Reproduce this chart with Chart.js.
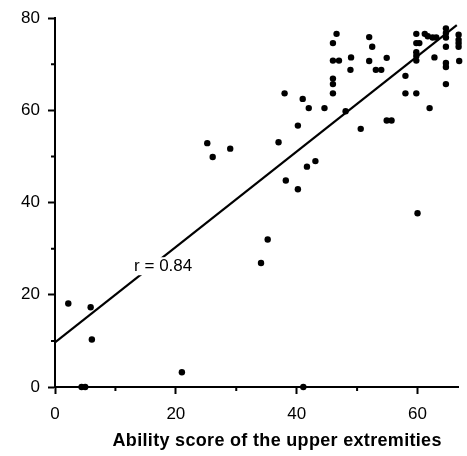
<!DOCTYPE html>
<html><head><meta charset="utf-8">
<script src="https://cdn.jsdelivr.net/npm/chart.js@4"></script>
<style>html,body{margin:0;padding:0;background:#fff}#wrap{width:467px;height:456px}</style>
</head><body><div id="wrap"><canvas id="c" width="467" height="456"></canvas></div>
<script>
// Scatter data: ability score of the upper extremities (x) vs score (y)
const xValues = [2.2, 5.9, 6.1, 4.4, 5.0, 21.0, 41.1, 25.2, 26.1, 29.0,
  38.0, 41.0, 42.0, 40.2, 37.0, 38.2, 40.2, 41.7, 43.1, 35.2,
  34.1, 44.6, 48.1, 50.6, 46.6, 46.0, 46.0, 47.0, 49.0, 48.9,
  46.0, 46.0, 46.0, 52.0, 52.5, 52.0, 54.9, 53.1, 54.0, 58.0,
  58.0, 59.8, 62.0, 54.9, 55.7, 60.0, 59.8, 61.2, 61.7, 62.5,
  63.1, 59.8, 60.3, 59.8, 59.8, 59.8, 62.8, 64.7, 64.7, 64.7,
  64.7, 64.7, 64.7, 64.7, 66.8, 66.8, 66.8, 66.8, 66.9];
const yValues = [18.1, 17.3, 10.3, 0, 0, 3.2, 0, 52.9, 49.9, 51.7,
  63.7, 62.5, 60.5, 56.7, 53.1, 44.8, 42.9, 47.8, 49.0, 32.0,
  26.9, 60.5, 59.8, 56.0, 76.6, 74.6, 70.8, 70.8, 71.5, 68.8,
  66.9, 65.7, 63.7, 75.9, 73.8, 70.7, 71.4, 68.8, 68.8, 67.5,
  63.7, 63.7, 60.5, 57.8, 57.8, 37.7, 76.6, 76.6, 76.1, 75.8,
  75.8, 74.6, 74.6, 72.6, 71.8, 70.8, 71.5, 77.8, 76.8, 75.8,
  73.8, 70.3, 69.4, 65.7, 76.4, 75.3, 74.6, 73.8, 70.7];
// Regression line end points
const lineX = [0, 66.5];
const lineY = [9.7, 78.5];
// Axis ticks
const xMajorTicks = [0, 20, 40, 60];
const xMinorTicks = [10, 30, 50];
const yMajorTicks = [0, 20, 40, 60, 80];
const yMinorTicks = [10, 30, 50, 70];
const xTitle = 'Ability score of the upper extremities';
const rLabel = 'r = 0.84';
const rLabelAt = [17.9, 26.2];

const points = xValues.map((x, i) => ({x: x, y: yValues[i]}));
const linePts = lineX.map((x, i) => ({x: x, y: lineY[i]}));

const FONT = "'Liberation Sans', Arial, sans-serif";

const extras = {
  id: 'extras',
  afterDatasetsDraw(chart) {
    const ctx = chart.ctx;
    const xs = chart.scales.x, ys = chart.scales.y;
    ctx.save();
    ctx.font = '17px ' + FONT;
    const cx = xs.getPixelForValue(rLabelAt[0]);
    const cy = ys.getPixelForValue(rLabelAt[1]);
    const w = ctx.measureText(rLabel).width;
    ctx.fillStyle = '#fff';
    ctx.fillRect(cx - w / 2 - 2, cy - 9, w + 4, 18);
    ctx.fillStyle = '#000';
    ctx.textAlign = 'center';
    ctx.textBaseline = 'middle';
    ctx.fillText(rLabel, cx, cy);
    ctx.restore();
  },
  afterDraw(chart) {
    const ctx = chart.ctx;
    const xs = chart.scales.x, ys = chart.scales.y;
    const a = chart.chartArea;
    ctx.save();
    ctx.strokeStyle = '#000';
    ctx.lineWidth = 2;
    ctx.beginPath();
    xMinorTicks.forEach(v => {
      const p = xs.getPixelForValue(v);
      ctx.moveTo(p, a.bottom); ctx.lineTo(p, a.bottom + 4);
    });
    yMinorTicks.forEach(v => {
      const p = ys.getPixelForValue(v);
      ctx.moveTo(a.left, p); ctx.lineTo(a.left - 4, p);
    });
    ctx.stroke();
    ctx.font = 'bold 18px ' + FONT;
    ctx.fillStyle = '#000';
    ctx.textBaseline = 'middle';
    ctx.textAlign = 'left';
    const target = 329;
    const w0 = ctx.measureText(xTitle).width;
    const sp = Math.max(0, (target - w0) / (xTitle.length - 1));
    ctx.letterSpacing = sp.toFixed(2) + 'px';
    const w1 = ctx.measureText(xTitle).width;
    ctx.fillText(xTitle, 277 - w1 / 2 + sp / 2, 441);
    ctx.restore();
  }
};

new Chart(document.getElementById('c'), {
  type: 'scatter',
  data: {
    datasets: [
      {
        type: 'line',
        data: linePts,
        borderColor: '#000',
        borderWidth: 2.2,
        pointRadius: 0,
        fill: false,
        order: 2
      },
      {
        type: 'scatter',
        data: points,
        backgroundColor: '#000',
        borderColor: '#000',
        pointRadius: 3.2,
        borderWidth: 0,
        clip: false,
        order: 1
      }
    ]
  },
  options: {
    responsive: false,
    animation: false,
    devicePixelRatio: 1,
    layout: {padding: {top: 15, right: 9, left: 0, bottom: 0}},
    plugins: {legend: {display: false}, tooltip: {enabled: false}},
    scales: {
      x: {
        type: 'linear',
        min: 0, max: 66.7,
        afterFit(s) { s.height = 69; },
        afterBuildTicks(s) { s.ticks = xMajorTicks.map(v => ({value: v})); },
        ticks: {
          color: '#000', padding: 10, maxRotation: 0,
          font: {family: FONT, size: 17},
          callback: v => String(v)
        },
        grid: {display: true, drawOnChartArea: false, drawTicks: true, tickLength: 7, tickWidth: 2, tickColor: '#000'},
        border: {display: true, color: '#000', width: 2}
      },
      y: {
        type: 'linear',
        min: 0, max: 80,
        afterFit(s) { s.width = 55; },
        afterBuildTicks(s) { s.ticks = yMajorTicks.map(v => ({value: v})); },
        ticks: {
          color: '#000', padding: 8,
          font: {family: FONT, size: 17},
          callback: v => String(v)
        },
        grid: {display: true, drawOnChartArea: false, drawTicks: true, tickLength: 7, tickWidth: 2, tickColor: '#000'},
        border: {display: true, color: '#000', width: 2}
      }
    }
  },
  plugins: [extras]
});
</script>
</body></html>
